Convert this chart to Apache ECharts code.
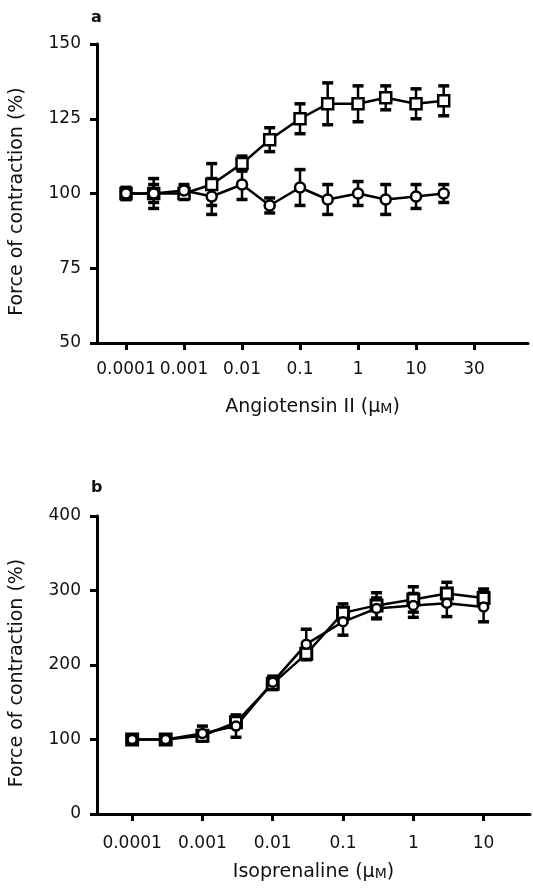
<!DOCTYPE html>
<html>
<head>
<meta charset="utf-8">
<script src="https://cdn.jsdelivr.net/npm/echarts@6/dist/echarts.min.js"></script>
<style>
  html, body { margin: 0; padding: 0; background: #fff; }
  #main { width: 533px; height: 891px; }
</style>
</head>
<body>
<div id="main"></div>
<script>
// panel a: angiotensin II
var concA = [0.0001, 0.0003, 0.001, 0.003, 0.01, 0.03, 0.1, 0.3, 1, 3, 10, 30];
var squareA = [100, 100, 100, 103, 110, 118, 125, 130, 130, 132, 130, 131];
var squareAErr = [2, 5, 2, 7, 2.5, 4, 5, 7, 6, 4, 5, 5];
var circleA = [100, 100, 101, 99, 103, 96, 102, 98, 100, 98, 99, 100];
var circleAErr = [2, 3, 2, 6, 5, 2.5, 6, 5, 4, 5, 4, 3];
var tickPosA = [-4, -3, -2, -1, 0, 1, 2];
var tickLabelA = ['0.0001', '0.001', '0.01', '0.1', '1', '10', '30'];

// panel b: isoprenaline
var concB = [0.0001, 0.0003, 0.001, 0.003, 0.01, 0.03, 0.1, 0.3, 1, 3, 10];
var squareB = [100, 100, 105, 123, 175, 215, 270, 280, 288, 296, 290];
var squareBErr = [4, 5, 6, 6, 8, 8, 12, 17, 17, 15, 12];
var circleB = [100, 100, 108, 118, 177, 228, 258, 276, 280, 283, 278];
var circleBErr = [4, 5, 10, 15, 8, 20, 18, 14, 16, 18, 20];
var tickPosB = [-4, -3, -2, -1, 0, 1];
var tickLabelB = ['0.0001', '0.001', '0.01', '0.1', '1', '10'];

var FONT = 'DejaVu Sans';

function pts(conc, vals) {
    return conc.map(function (c, i) { return [Math.log10(c), vals[i]]; });
}
function errPts(conc, vals, errs) {
    return conc.map(function (c, i) { return [Math.log10(c), vals[i] - errs[i], vals[i] + errs[i]]; });
}
function labelFor(pos, labels) {
    return function (v) {
        var i = pos.indexOf(Math.round(v));
        return i < 0 ? '' : labels[i];
    };
}

// vertical error bar with caps
function errRender(params, api) {
    var x = api.value(0);
    var top = api.coord([x, api.value(2)]);
    var bot = api.coord([x, api.value(1)]);
    var w = 5.5;
    var st = { stroke: '#000', lineWidth: 2.5 };
    var cap = { stroke: '#000', lineWidth: 3.5 };
    return {
        type: 'group',
        children: [
            { type: 'line', shape: { x1: top[0], y1: top[1], x2: bot[0], y2: bot[1] }, style: st },
            { type: 'line', shape: { x1: top[0] - w, y1: top[1], x2: top[0] + w, y2: top[1] }, style: cap },
            { type: 'line', shape: { x1: bot[0] - w, y1: bot[1], x2: bot[0] + w, y2: bot[1] }, style: cap }
        ]
    };
}

function xAxis(idx, min, max, pos, labels, name, margin, gap) {
    return {
        type: 'value', gridIndex: idx, min: min, max: max,
        name: name, nameLocation: 'middle', nameGap: gap,
        nameTextStyle: {
            fontFamily: FONT, fontSize: 19, color: '#111',
            rich: {
                m: { fontFamily: FONT, fontSize: 14, color: '#111', padding: [3, 0, 0, 0] }
            }
        },
        axisLine: { onZero: false, lineStyle: { color: '#000', width: 3 } },
        axisTick: { customValues: pos, length: 7, lineStyle: { color: '#000', width: 3 } },
        axisLabel: {
            customValues: pos, formatter: labelFor(pos, labels), margin: margin,
            fontFamily: FONT, fontSize: 17, color: '#111'
        },
        splitLine: { show: false }
    };
}

function yAxis(idx, min, max, step) {
    return {
        type: 'value', gridIndex: idx, min: min, max: max, interval: step,
        name: 'Force of contraction (%)', nameLocation: 'middle', nameGap: 70,
        nameTextStyle: { fontFamily: FONT, fontSize: 19, color: '#111', padding: [0, 16, 0, 0] },
        axisLine: { show: true, onZero: false, lineStyle: { color: '#000', width: 3 } },
        axisTick: { show: true, length: 7, lineStyle: { color: '#000', width: 3 } },
        axisLabel: { margin: 16, fontFamily: FONT, fontSize: 17, color: '#111' },
        splitLine: { show: false }
    };
}

function lineSeries(idx, data, symbol, size, bw) {
    return {
        type: 'line', xAxisIndex: idx, yAxisIndex: idx, data: data,
        symbol: symbol, symbolSize: size, z: 3,
        lineStyle: { color: '#000', width: 2.5 },
        itemStyle: { color: '#fff', borderColor: '#000', borderWidth: bw },
        animation: false
    };
}

function errSeries(idx, data) {
    return {
        type: 'custom', xAxisIndex: idx, yAxisIndex: idx, data: data,
        encode: { x: 0, y: [1, 2] }, renderItem: errRender, z: 2, animation: false
    };
}

var myChart = echarts.init(document.getElementById('main'));

var option = {
    backgroundColor: '#fff',
    animation: false,
    graphic: [
        { type: 'text', left: 91, top: 10, style: { text: 'a', font: 'bold 16px ' + FONT, fill: '#111' } },
        { type: 'text', left: 91, top: 480, style: { text: 'b', font: 'bold 16px ' + FONT, fill: '#111' } }
    ],
    grid: [
        { left: 97, top: 44, width: 431, height: 299 },
        { left: 97, top: 516, width: 433, height: 298 }
    ],
    xAxis: [
        xAxis(0, -4.5, 2.93, tickPosA, tickLabelA, 'Angiotensin II (μ{m|M})', 18, 55),
        xAxis(1, -4.5, 1.66, tickPosB, tickLabelB, 'Isoprenaline (μ{m|M})', 21, 49)
    ],
    yAxis: [
        yAxis(0, 50, 150, 25),
        yAxis(1, 0, 400, 100)
    ],
    series: [
        errSeries(0, errPts(concA, squareA, squareAErr)),
        errSeries(0, errPts(concA, circleA, circleAErr)),
        lineSeries(0, pts(concA, squareA), 'rect', 11, 2.5),
        lineSeries(0, pts(concA, circleA), 'circle', 10, 2.5),
        errSeries(1, errPts(concB, squareB, squareBErr)),
        errSeries(1, errPts(concB, circleB, circleBErr)),
        lineSeries(1, pts(concB, squareB), 'rect', 11, 3),
        lineSeries(1, pts(concB, circleB), 'circle', 9, 2.5)
    ]
};

myChart.setOption(option);
</script>
</body>
</html>
